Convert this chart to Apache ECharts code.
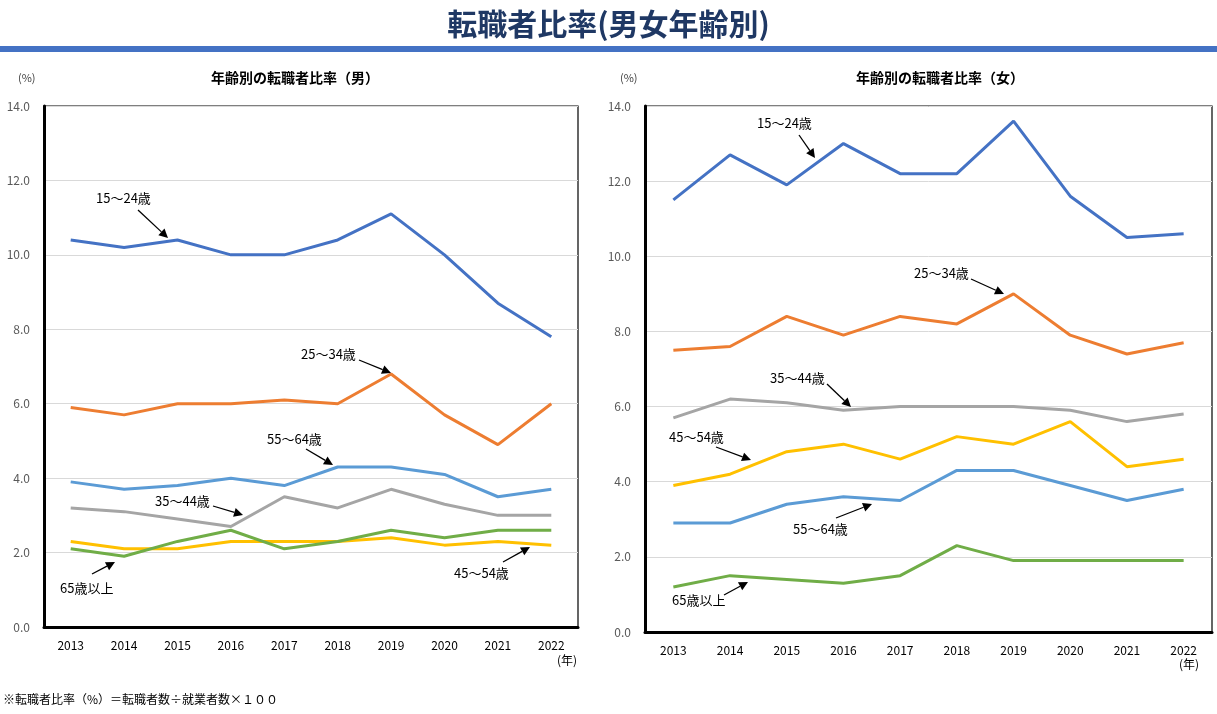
<!DOCTYPE html>
<html><head><meta charset="utf-8">
<script src="https://cdn.jsdelivr.net/npm/echarts@6/dist/echarts.min.js"></script>
<style>html,body{margin:0;padding:0;background:#fff}#c{width:1217px;height:714px}</style>
</head><body><div id="c"></div>
<script>
const years = ['2013','2014','2015','2016','2017','2018','2019','2020','2021','2022'];
const yTicks = [0, 2, 4, 6, 8, 10, 12, 14];
const ageGroups = ['15～24歳','25～34歳','35～44歳','45～54歳','55～64歳','65歳以上'];
// 男
const male15_24 = [10.4, 10.2, 10.4, 10.0, 10.0, 10.4, 11.1, 10.0, 8.7, 7.8];
const male25_34 = [5.9, 5.7, 6.0, 6.0, 6.1, 6.0, 6.8, 5.7, 4.9, 6.0];
const male35_44 = [3.2, 3.1, 2.9, 2.7, 3.5, 3.2, 3.7, 3.3, 3.0, 3.0];
const male45_54 = [2.3, 2.1, 2.1, 2.3, 2.3, 2.3, 2.4, 2.2, 2.3, 2.2];
const male55_64 = [3.9, 3.7, 3.8, 4.0, 3.8, 4.3, 4.3, 4.1, 3.5, 3.7];
const male65up  = [2.1, 1.9, 2.3, 2.6, 2.1, 2.3, 2.6, 2.4, 2.6, 2.6];
// 女
const female15_24 = [11.5, 12.7, 11.9, 13.0, 12.2, 12.2, 13.6, 11.6, 10.5, 10.6];
const female25_34 = [7.5, 7.6, 8.4, 7.9, 8.4, 8.2, 9.0, 7.9, 7.4, 7.7];
const female35_44 = [5.7, 6.2, 6.1, 5.9, 6.0, 6.0, 6.0, 5.9, 5.6, 5.8];
const female45_54 = [3.9, 4.2, 4.8, 5.0, 4.6, 5.2, 5.0, 5.6, 4.4, 4.6];
const female55_64 = [2.9, 2.9, 3.4, 3.6, 3.5, 4.3, 4.3, 3.9, 3.5, 3.8];
const female65up  = [1.2, 1.5, 1.4, 1.3, 1.5, 2.3, 1.9, 1.9, 1.9, 1.9];

const colors = ['#4472c4','#ed7d31','#a5a5a5','#ffc000','#5b9bd5','#70ad47'];
const FF = '"Noto Sans CJK JP", "Noto Sans", sans-serif';
const maleData = [male15_24, male25_34, male35_44, male45_54, male55_64, male65up];
const femaleData = [female15_24, female25_34, female35_44, female45_54, female55_64, female65up];

function arrow(x1,y1,x2,y2){
  const a = Math.atan2(y2-y1, x2-x1), L = 9, W = 4.5;
  const bx = x2 - L*Math.cos(a), by = y2 - L*Math.sin(a);
  return [
    {type:'line', shape:{x1:x1,y1:y1,x2:bx,y2:by}, style:{stroke:'#000', lineWidth:1.3}, z:100},
    {type:'polygon', shape:{points:[[x2,y2],[bx+W*Math.sin(a), by-W*Math.cos(a)],[bx-W*Math.sin(a), by+W*Math.cos(a)]]}, style:{fill:'#000'}, z:100}
  ];
}
function label(t,x,y){
  return {type:'text', x:x, y:y, style:{text:t, fontSize:13, fontFamily:FF, fill:'#000', align:'left', verticalAlign:'middle'}, z:100};
}
const anno = [
  // male
  [ageGroups[0], 96, 198, 138, 210, 168, 238],
  [ageGroups[1], 301, 354, 359, 360, 391, 373],
  [ageGroups[4], 267, 439, 306, 449, 333, 465],
  [ageGroups[2], 155, 501, 213, 506, 243, 515],
  [ageGroups[5], 60, 588, 92, 574, 115, 562],
  [ageGroups[3], 454, 573, 503, 562, 530, 547],
  // female
  [ageGroups[0], 757, 123, 799, 135, 815, 158],
  [ageGroups[1], 914, 273, 971, 279, 1004, 294],
  [ageGroups[2], 770, 378, 827, 384, 851, 407],
  [ageGroups[3], 669, 437, 716, 447, 751, 460],
  [ageGroups[4], 793, 529, 836, 518, 872, 504],
  [ageGroups[5], 672, 600, 724, 595, 748, 582]
];
const graphics = [
  {type:'rect', shape:{x:0, y:46, width:1217, height:6}, style:{fill:'#4472c4'}},
  {type:'text', x:3, y:699, style:{text:'※転職者比率（%）＝転職者数÷就業者数×１００', fontSize:12, fontFamily:FF, fill:'#000', verticalAlign:'middle'}},
  {type:'text', x:18, y:78, style:{text:'(%)', fontSize:11, fontFamily:FF, fill:'#404040', verticalAlign:'middle'}},
  {type:'text', x:620, y:78, style:{text:'(%)', fontSize:11, fontFamily:FF, fill:'#404040', verticalAlign:'middle'}},
  {type:'text', x:567, y:660, style:{text:'(年)', fontSize:12, fontFamily:FF, fill:'#000', align:'center', verticalAlign:'middle'}},
  {type:'text', x:1189, y:664, style:{text:'(年)', fontSize:12, fontFamily:FF, fill:'#000', align:'center', verticalAlign:'middle'}}
];
anno.forEach(a => { graphics.push(label(a[0], a[1], a[2])); arrow(a[3],a[4],a[5],a[6]).forEach(g => graphics.push(g)); });

const grids = [
  {left:44, right:639, top:106, bottom:87, show:true, borderColor:'#000', borderWidth:1.2},
  {left:645, right:5, top:106, bottom:82, show:true, borderColor:'#000', borderWidth:1.2}
];
function xAx(i){
  return {type:'category', gridIndex:i, data:years, boundaryGap:true,
    axisLine:{show:true, lineStyle:{color:'#000', width:3}}, axisTick:{show:false},
    axisLabel:{color:'#000', fontSize:12, fontFamily:FF, margin:12}};
}
function yAx(i){
  return {type:'value', gridIndex:i, min:yTicks[0], max:yTicks[yTicks.length-1], interval:yTicks[1]-yTicks[0],
    axisLine:{show:true, lineStyle:{color:'#000', width:3}}, axisTick:{show:false},
    splitLine:{lineStyle:{color:'#d9d9d9', width:1}},
    axisLabel:{color:'#595959', fontSize:12, fontFamily:FF, margin:14, formatter:v => v.toFixed(1)}};
}
const series = [];
[maleData, femaleData].forEach((set, gi) => {
  set.forEach((d, k) => {
    series.push({type:'line', name:ageGroups[k], xAxisIndex:gi, yAxisIndex:gi, data:d,
      symbol:'none', lineStyle:{color:colors[k], width:3}, itemStyle:{color:colors[k]}, silent:true, animation:false});
  });
});
const chart = echarts.init(document.getElementById('c'));
chart.setOption({
  backgroundColor:'#fff',
  animation:false,
  title:[
    {text:'転職者比率(男女年齢別)', left:'center', top:4, textStyle:{fontSize:30, fontWeight:'bold', color:'#1f3864', fontFamily:FF}},
    {text:'年齢別の転職者比率（男）', left:290, top:66, textAlign:'center', textStyle:{fontSize:14, fontWeight:'bold', color:'#000', fontFamily:FF}},
    {text:'年齢別の転職者比率（女）', left:935, top:66, textAlign:'center', textStyle:{fontSize:14, fontWeight:'bold', color:'#000', fontFamily:FF}}
  ],
  grid:grids,
  xAxis:[xAx(0), xAx(1)],
  yAxis:[yAx(0), yAx(1)],
  series:series,
  graphic:graphics
});
</script></body></html>
